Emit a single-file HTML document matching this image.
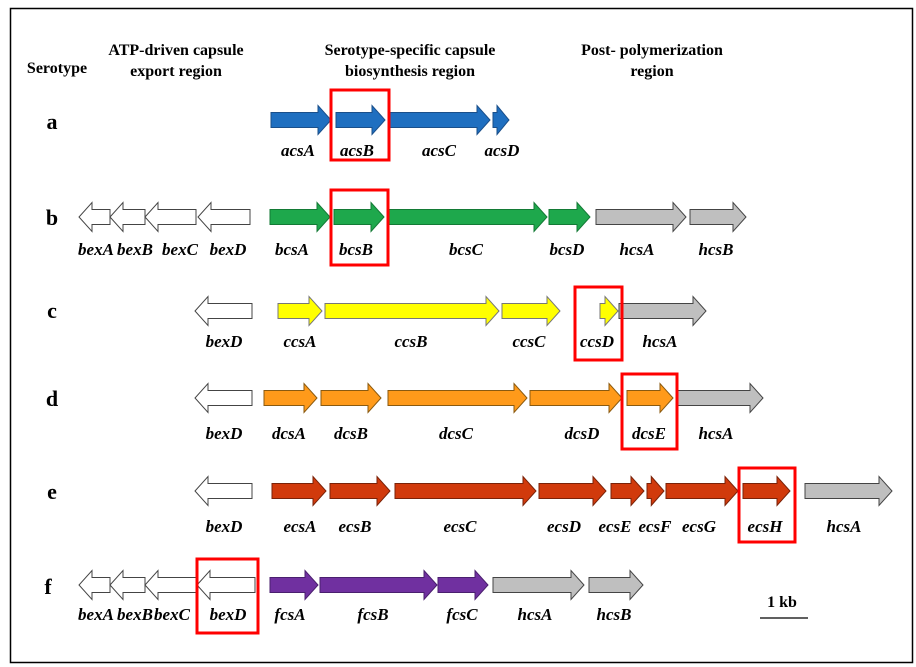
<!DOCTYPE html>
<html><head><meta charset="utf-8"><style>
html,body{margin:0;padding:0;background:#fff;width:916px;height:667px;overflow:hidden}
svg{display:block}
text{font-family:"Liberation Serif",serif;font-weight:bold;fill:#000}
.g{font-style:italic;font-size:17px;text-anchor:middle}
.h{font-size:16px;text-anchor:middle}
.L{font-size:22px;text-anchor:middle}
</style></head><body>
<svg id="s" width="916" height="667" xmlns="http://www.w3.org/2000/svg">
<rect x="10.5" y="8.5" width="902" height="654" fill="#fff" stroke="#000" stroke-width="1.5"/>
<g id="arrows"></g>
<text class="h" x="57" y="73">Serotype</text>
<text class="h" x="176" y="55">ATP-driven  capsule</text>
<text class="h" x="176" y="76">export region</text>
<text class="h" x="410" y="55">Serotype-specific capsule</text>
<text class="h" x="410" y="76">biosynthesis region</text>
<text class="h" x="652" y="55">Post- polymerization</text>
<text class="h" x="652" y="76">region</text>
<text class="L" x="52" y="129">a</text>
<text class="L" x="52" y="225">b</text>
<text class="L" x="52" y="318">c</text>
<text class="L" x="52" y="406">d</text>
<text class="L" x="52" y="499">e</text>
<text class="L" x="48" y="594">f</text>
<g class="g">
<text x="298" y="156">acsA</text><text x="357" y="156">acsB</text><text x="439" y="156">acsC</text><text x="502" y="156">acsD</text>
<text x="96" y="255">bexA</text><text x="135" y="255">bexB</text><text x="180" y="255">bexC</text><text x="228" y="255">bexD</text>
<text x="292" y="255">bcsA</text><text x="356" y="255">bcsB</text><text x="466" y="255">bcsC</text><text x="567" y="255">bcsD</text><text x="637" y="255">hcsA</text><text x="716" y="255">hcsB</text>
<text x="224" y="347">bexD</text><text x="300" y="347">ccsA</text><text x="411" y="347">ccsB</text><text x="529" y="347">ccsC</text><text x="597" y="347">ccsD</text><text x="660" y="347">hcsA</text>
<text x="224" y="439">bexD</text><text x="289" y="439">dcsA</text><text x="351" y="439">dcsB</text><text x="456" y="439">dcsC</text><text x="582" y="439">dcsD</text><text x="649" y="439">dcsE</text><text x="716" y="439">hcsA</text>
<text x="224" y="532">bexD</text><text x="300" y="532">ecsA</text><text x="355" y="532">ecsB</text><text x="460" y="532">ecsC</text><text x="564" y="532">ecsD</text><text x="615" y="532">ecsE</text><text x="655" y="532">ecsF</text><text x="699" y="532">ecsG</text><text x="765" y="532">ecsH</text><text x="844" y="532">hcsA</text>
<text x="96" y="620">bexA</text><text x="135" y="620">bexB</text><text x="172" y="620">bexC</text><text x="228" y="620">bexD</text>
<text x="290" y="620">fcsA</text><text x="373" y="620">fcsB</text><text x="462" y="620">fcsC</text><text x="535" y="620">hcsA</text><text x="614" y="620">hcsB</text>
</g>
<text x="782" y="607" style="font-size:16px;text-anchor:middle">1 kb</text>
<line x1="760" y1="618" x2="808" y2="618" stroke="#000" stroke-width="1.2"/>
<g fill="none" stroke="#f00" stroke-width="3">
<rect x="331" y="90" width="58" height="70"/>
<rect x="331" y="190" width="57" height="75"/>
<rect x="575" y="287" width="47" height="73"/>
<rect x="622" y="374" width="55" height="75"/>
<rect x="739" y="468" width="56" height="74"/>
<rect x="197" y="559" width="61" height="74"/>
</g>
</svg>
<script>
var NS="http://www.w3.org/2000/svg",G=document.getElementById("arrows");
function A(x1,x2,y,fill,stroke,left){
 var hl=Math.min(13,(x2-x1)*0.75),b=7.5,h=14.5,p;
 if(!left){var xh=x2-hl;p=[[x1,y-b],[xh,y-b],[xh,y-h],[x2,y],[xh,y+h],[xh,y+b],[x1,y+b]];}
 else{var xh=x1+hl;p=[[x2,y-b],[xh,y-b],[xh,y-h],[x1,y],[xh,y+h],[xh,y+b],[x2,y+b]];}
 var e=document.createElementNS(NS,"polygon");
 e.setAttribute("points",p.map(function(q){return q.join(",")}).join(" "));
 e.setAttribute("fill",fill);e.setAttribute("stroke",stroke);e.setAttribute("stroke-width","1");
 G.appendChild(e);
}
var W="#fff",K="#444",BL="#1f6fc0",GR="#1ea84c",YE="#ffff00",OR="#ff9a1a",RD="#d13a0c",PU="#7030a0",GY="#bfbfbf";
A(271,331,120,BL,"#1a4f8a");A(336,385,120,BL,"#1a4f8a");A(389,490,120,BL,"#1a4f8a");A(493,509,120,BL,"#1a4f8a");
A(79,110,217,W,K,1);A(110,145,217,W,K,1);A(145,196,217,W,K,1);A(198,250,217,W,K,1);
A(270,330,217,GR,"#137a35");A(334,384,217,GR,"#137a35");A(388,547,217,GR,"#137a35");A(549,590,217,GR,"#137a35");A(596,686,217,GY,K);A(690,746,217,GY,K);
A(195,252,311,W,K,1);A(278,322,311,YE,"#777");A(325,499,311,YE,"#777");A(502,560,311,YE,"#777");A(600,618,311,YE,"#777");A(619,706,311,GY,K);
A(195,252,398,W,K,1);A(264,317,398,OR,"#8a5a10");A(321,381,398,OR,"#8a5a10");A(388,527,398,OR,"#8a5a10");A(530,622,398,OR,"#8a5a10");A(627,673,398,OR,"#8a5a10");A(676,763,398,GY,K);
A(195,252,491,W,K,1);A(272,326,491,RD,"#7a2208");A(330,390,491,RD,"#7a2208");A(395,536,491,RD,"#7a2208");A(539,606,491,RD,"#7a2208");A(611,644,491,RD,"#7a2208");A(647,664,491,RD,"#7a2208");A(666,738,491,RD,"#7a2208");A(743,790,491,RD,"#7a2208");A(805,892,491,GY,K);
A(79,110,585,W,K,1);A(110,145,585,W,K,1);A(145,196,585,W,K,1);A(197,255,585,W,K,1);
A(270,318,585,PU,"#4a1f6e");A(320,437,585,PU,"#4a1f6e");A(438,488,585,PU,"#4a1f6e");A(493,584,585,GY,K);A(589,643,585,GY,K);
</script>
</body></html>
